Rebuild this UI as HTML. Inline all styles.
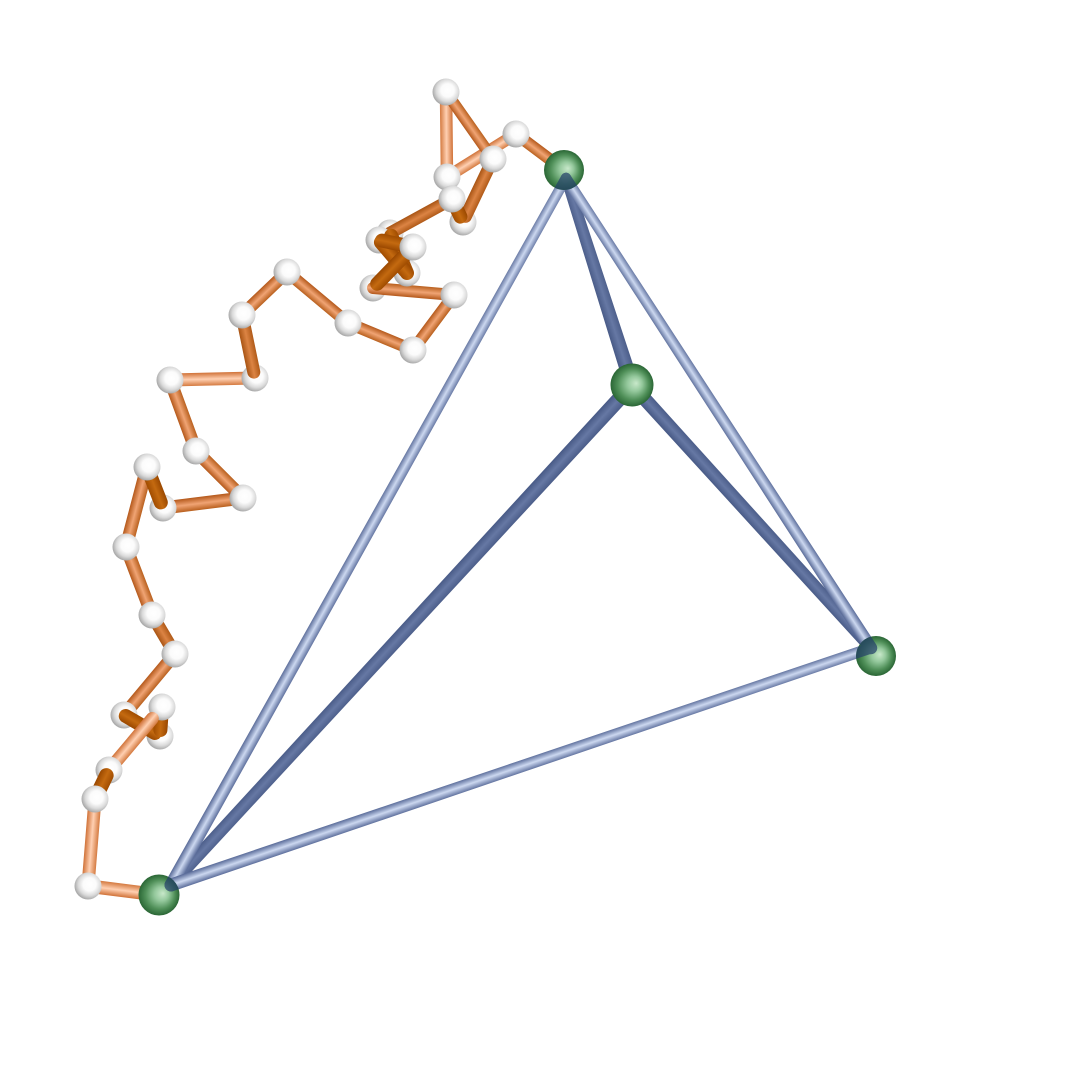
<!DOCTYPE html>
<html lang="en">
<head>
<meta charset="utf-8">
<title>Graph embedding with path</title>
<style>
html,body{margin:0;padding:0;background:#fff;width:1080px;height:1080px;overflow:hidden}
svg{display:block}
</style>
</head>
<body>
<svg id="chart" xmlns="http://www.w3.org/2000/svg" width="1080" height="1080" viewBox="0 0 1080 1080">
<defs id="defs">
<linearGradient id="tone-o0" x1="0" y1="0" x2="0" y2="1"><stop offset="0" stop-color="#d47a40"/><stop offset=".5" stop-color="#ffd0b2"/><stop offset="1" stop-color="#d07238"/></linearGradient>
<linearGradient id="tone-o1" x1="0" y1="0" x2="0" y2="1"><stop offset="0" stop-color="#b9601e"/><stop offset=".5" stop-color="#f0a474"/><stop offset="1" stop-color="#b4581a"/></linearGradient>
<linearGradient id="tone-o2" x1="0" y1="0" x2="0" y2="1"><stop offset="0" stop-color="#b05a18"/><stop offset=".5" stop-color="#dc8444"/><stop offset="1" stop-color="#a85414"/></linearGradient>
<linearGradient id="tone-o3" x1="0" y1="0" x2="0" y2="1"><stop offset="0" stop-color="#a04c00"/><stop offset=".5" stop-color="#c46a10"/><stop offset="1" stop-color="#9a4800"/></linearGradient>
<linearGradient id="tone-b0" x1="0" y1="0" x2="0" y2="1"><stop offset="0" stop-color="#5a6c9a"/><stop offset=".5" stop-color="#ccd8f0"/><stop offset="1" stop-color="#566896"/></linearGradient>
<linearGradient id="tone-b1" x1="0" y1="0" x2="0" y2="1"><stop offset="0" stop-color="#4a5c88"/><stop offset=".5" stop-color="#6678a4"/><stop offset="1" stop-color="#465884"/></linearGradient>
<radialGradient id="ball-white" cx=".56" cy=".44" r=".58"><stop offset="0" stop-color="#ffffff"/><stop offset=".42" stop-color="#fbfbfb"/><stop offset=".72" stop-color="#dadada"/><stop offset="1" stop-color="#a4a4a4"/></radialGradient>
<radialGradient id="ball-green" cx=".5" cy=".5" r=".5" fx=".6" fy=".46"><stop offset="0" stop-color="#c8e8ca"/><stop offset=".35" stop-color="#94c89c"/><stop offset=".72" stop-color="#4f8f58"/><stop offset="1" stop-color="#2a6635"/></radialGradient>
</defs>
<g id="plot"></g>
</svg>
<script>
// Layout coordinates in graph units (1 unit = 10 px on screen)
const pathX = [56.4,51.6,44.7,44.6,49.3,46.3,45.2,39.0,40.7,37.9,41.3,37.3,45.4,41.3,34.8,28.7,24.2,25.5,17.0,19.6,24.3,16.3,14.7,12.6,15.2,17.5,12.4,16.0,16.2,10.9,9.5,8.8,15.9];
const pathY = [17.0,13.4,17.7,9.2,15.9,22.2,19.9,23.3,27.3,24.0,24.7,28.8,29.5,35.0,32.3,27.2,31.5,37.8,38.0,45.1,49.8,50.8,46.7,54.7,61.5,65.4,71.5,73.6,70.7,77.0,79.9,88.6,89.5];
// Draw layer for each path sphere; spheres of a layer paint before the segments of that layer
const pathNodeLayer = [4,4,4,4,4,1,4,0,1,1,4,0,4,4,4,4,4,1,4,4,4,1,4,4,4,4,1,1,2,3,4,4,4];
// Segment i joins path sphere i and i+1
const segmentTone = [1,0,0,1,2,3,2,3,3,3,3,1,1,1,1,1,2,0,1,1,1,3,1,1,2,1,3,3,0,3,0,0];
const segmentWidth = [1.2,1.2,1.25,1.15,1.25,1.4,1.25,1.4,1.4,1.4,1.4,1.2,1.2,1.2,1.2,1.25,1.3,1.3,1.3,1.3,1.3,1.4,1.3,1.3,1.3,1.3,1.4,1.4,1.3,1.45,1.3,1.35];
const segmentLayer = [0,0,0,0,1,1,0,1,1,2,2,0,0,0,0,0,1,0,0,0,0,1,0,0,0,0,1,1,2,3,0,0];
const segmentInsetStart = [0,0,0,0,0,0.6,0,0.3,0.3,0.3,0.3,0,0,0,0,0,0,0,0,0,0,0.6,0,0,0,0,0.2,0.6,1.5,0.6,0,0];
const segmentInsetEnd = [0,0,0,0,0.6,0,0,0,0.3,0,0.6,0,0,0,0,0,0.6,0,0,0,0,0,0,0,0,0,0.6,0,0,0,0,0];
// Tetrahedron frame: hubs 0 top, 1 centre, 2 right, 3 left
const hubX = [56.4,63.2,87.6,15.9];
const hubY = [17.0,38.5,65.6,89.5];
const hubRadius = [2.0,2.15,2.0,2.05];
const frameFrom = [0,0,0,1,1,2];
const frameTo = [3,1,2,3,2,3];
const frameTone = [0,1,0,1,1,0];
const frameWidthFrom = [1.05,1.05,1.05,1.5,1.4,1.1];
const frameWidthTo = [1.3,1.5,1.25,1.2,1.2,1.3];
// Where tube centre lines meet each hub (offset from sphere centre by perspective)
const tipX = [56.6,63.2,87.1,17.1];
const tipY = [17.8,38.5,64.8,88.5];
const capHub = [0,2,3];
const sphereRadius = 1.35;

const sx = v => v * 10;
const sy = v => v * 10;
const NS = 'http://www.w3.org/2000/svg';
const plot = document.getElementById('plot');
const defs = document.getElementById('defs');

function tube(x1, y1, x2, y2, w1, w2, fill) {
  const px1 = sx(x1), py1 = sy(y1), px2 = sx(x2), py2 = sy(y2);
  const len = Math.hypot(px2 - px1, py2 - py1);
  const ang = Math.atan2(py2 - py1, px2 - px1) * 180 / Math.PI;
  const a = sx(w1) / 2, b = sx(w2) / 2;
  const shape = document.createElementNS(NS, 'path');
  shape.setAttribute('d', 'M0,' + (-a) + ' L' + len + ',' + (-b) + ' A' + b + ',' + b + ' 0 0 1 ' + len + ',' + b + ' L0,' + a + ' A' + a + ',' + a + ' 0 0 1 0,' + (-a) + ' Z');
  shape.setAttribute('transform', 'translate(' + px1 + ',' + py1 + ') rotate(' + ang + ')');
  shape.setAttribute('fill', fill);
  return shape;
}

function ball(x, y, r, fill) {
  const c = document.createElementNS(NS, 'circle');
  c.setAttribute('cx', sx(x));
  c.setAttribute('cy', sy(y));
  c.setAttribute('r', sx(r));
  c.setAttribute('fill', fill);
  return c;
}

// Path spheres and segments, layer by layer
for (let layer = 0; layer <= 4; layer++) {
  pathX.forEach((x, i) => {
    if (i === 0 || i === pathX.length - 1) return;
    if (pathNodeLayer[i] !== layer) return;
    const c = ball(x, pathY[i], sphereRadius, 'url(#ball-white)');
    
    
    plot.appendChild(c);
  });
  segmentTone.forEach((tone, i) => {
    if (segmentLayer[i] !== layer) return;
    const dx = pathX[i + 1] - pathX[i], dy = pathY[i + 1] - pathY[i];
    const d = Math.hypot(dx, dy), k0 = segmentInsetStart[i] / d, k1 = segmentInsetEnd[i] / d;
    const t = tube(pathX[i] + dx * k0, pathY[i] + dy * k0, pathX[i + 1] - dx * k1, pathY[i + 1] - dy * k1, segmentWidth[i], segmentWidth[i], 'url(#tone-o' + tone + ')');
    
    
    plot.appendChild(t);
  });
}

// Frame tubes, dark ones first
[1, 0].forEach(tone => {
  frameFrom.forEach((from, i) => {
    if (frameTone[i] !== tone) return;
    const to = frameTo[i];
    const t = tube(tipX[from], tipY[from], tipX[to], tipY[to], frameWidthFrom[i], frameWidthTo[i], 'url(#tone-b' + tone + ')');
    
    
    plot.appendChild(t);
  });
});

// Hub spheres
hubX.forEach((x, i) => {
  const c = ball(x, hubY[i], hubRadius[i], 'url(#ball-green)');
  
  
  plot.appendChild(c);
});

// Tube ends seen through the translucent hub spheres, clipped to each sphere
capHub.forEach(h => {
  const clip = document.createElementNS(NS, 'clipPath');
  clip.setAttribute('id', 'hub-clip-' + h);
  clip.appendChild(ball(hubX[h], hubY[h], hubRadius[h], '#000'));
  defs.appendChild(clip);
  const through = document.createElementNS(NS, 'g');
  through.setAttribute('opacity', '0.72');
  through.setAttribute('clip-path', 'url(#hub-clip-' + h + ')');
  
  
  plot.appendChild(through);
  frameFrom.forEach((from, i) => {
    const to = frameTo[i];
    if (from !== h && to !== h) return;
    const other = from === h ? to : from;
    const w = from === h ? frameWidthFrom[i] : frameWidthTo[i];
    const dx = tipX[other] - tipX[h], dy = tipY[other] - tipY[h];
    const d = Math.hypot(dx, dy);
    const stub = tube(tipX[h], tipY[h], tipX[h] + dx / d * 4, tipY[h] + dy / d * 4, w, w, '#24406a');
    
    
    through.appendChild(stub);
  });
});
</script>
</body>
</html>
